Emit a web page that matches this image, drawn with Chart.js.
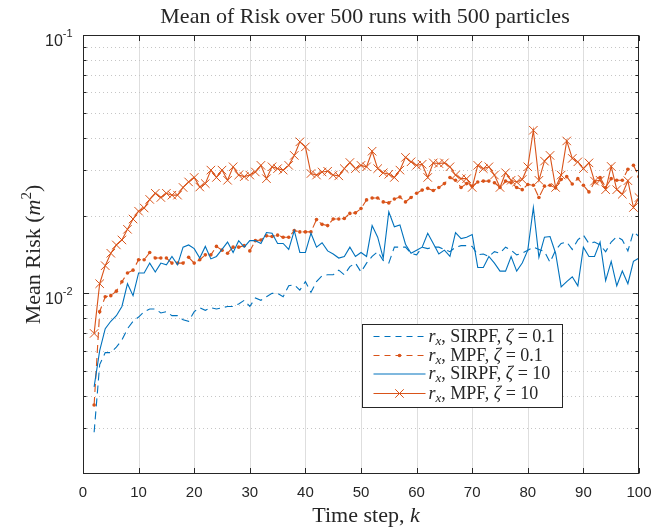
<!DOCTYPE html>
<html>
<head>
<meta charset="utf-8">
<script src="https://cdn.jsdelivr.net/npm/chart.js@4.4.1/dist/chart.umd.min.js"></script>
<style>
body { margin: 0; background: #fff; }
#wrap { width: 665px; height: 527px; }
</style>
</head>
<body>
<div id="wrap"><canvas id="risk" width="665" height="527"></canvas></div>
<script>
// time steps k
const steps = [
    2, 3, 4, 5, 6, 7, 8, 9, 10, 11,
    12, 13, 14, 15, 16, 17, 18, 19, 20, 21,
    22, 23, 24, 25, 26, 27, 28, 29, 30, 31,
    32, 33, 34, 35, 36, 37, 38, 39, 40, 41,
    42, 43, 44, 45, 46, 47, 48, 49, 50, 51,
    52, 53, 54, 55, 56, 57, 58, 59, 60, 61,
    62, 63, 64, 65, 66, 67, 68, 69, 70, 71,
    72, 73, 74, 75, 76, 77, 78, 79, 80, 81,
    82, 83, 84, 85, 86, 87, 88, 89, 90, 91,
    92, 93, 94, 95, 96, 97, 98, 99, 100
]

// r_x, SIRPF, zeta = 0.1
const sirpfLow = [
    0.0029, 0.0053, 0.0059, 0.0059, 0.0062, 0.0066, 0.0073, 0.0078, 0.0081, 0.0085,
    0.0087, 0.0087, 0.0084, 0.0085, 0.0082, 0.0082, 0.0079, 0.0078, 0.0085, 0.0088,
    0.0086, 0.0088, 0.0087, 0.0088, 0.0089, 0.0089, 0.0091, 0.0094, 0.0089, 0.0096,
    0.0094, 0.0097, 0.0100, 0.0100, 0.0097, 0.0107, 0.0108, 0.0103, 0.0111, 0.0101,
    0.0111, 0.0117, 0.0118, 0.0118, 0.0123, 0.0118, 0.0127, 0.0131, 0.0121, 0.0131,
    0.0139, 0.0145, 0.0134, 0.0131, 0.0151, 0.0151, 0.0151, 0.0143, 0.0141, 0.0151,
    0.0149, 0.0151, 0.0151, 0.0148, 0.0145, 0.0151, 0.0153, 0.0153, 0.0152, 0.0141,
    0.0142, 0.0139, 0.0145, 0.0143, 0.0151, 0.0147, 0.0141, 0.0143, 0.0147, 0.0151,
    0.0148, 0.0145, 0.0132, 0.0147, 0.0156, 0.0158, 0.0148, 0.0161, 0.0168, 0.0156,
    0.0158, 0.0154, 0.0145, 0.0158, 0.0166, 0.0161, 0.0146, 0.0173, 0.0166
]

// r_x, MPF, zeta = 0.1
const mpfLow = [
    0.0037, 0.0085, 0.0097, 0.0098, 0.0102, 0.0111, 0.0120, 0.0123, 0.0135, 0.0135,
    0.0144, 0.0137, 0.0137, 0.0137, 0.0131, 0.0131, 0.0131, 0.0138, 0.0131, 0.0135,
    0.0141, 0.0141, 0.0152, 0.0147, 0.0143, 0.0151, 0.0151, 0.0153, 0.0146, 0.0160,
    0.0161, 0.0167, 0.0166, 0.0168, 0.0165, 0.0165, 0.0175, 0.0173, 0.0173, 0.0173,
    0.0193, 0.0185, 0.0183, 0.0194, 0.0194, 0.0195, 0.0204, 0.0205, 0.0213, 0.0230,
    0.0234, 0.0234, 0.0226, 0.0224, 0.0232, 0.0236, 0.0226, 0.0235, 0.0244, 0.0251,
    0.0255, 0.0250, 0.0257, 0.0266, 0.0281, 0.0274, 0.0257, 0.0266, 0.0260, 0.0270,
    0.0272, 0.0272, 0.0268, 0.0257, 0.0272, 0.0268, 0.0257, 0.0252, 0.0264, 0.0262,
    0.0235, 0.0260, 0.0262, 0.0256, 0.0276, 0.0283, 0.0265, 0.0278, 0.0262, 0.0247,
    0.0270, 0.0281, 0.0257, 0.0278, 0.0274, 0.0274, 0.0302, 0.0313, 0.0283
]

// r_x, SIRPF, zeta = 10
const sirpfHigh = [
    0.00435, 0.0060, 0.0073, 0.0078, 0.0082, 0.0089, 0.0109, 0.0098, 0.0120, 0.0120,
    0.0131, 0.0121, 0.0131, 0.0129, 0.0139, 0.0129, 0.0151, 0.0154, 0.0149, 0.0137,
    0.0152, 0.0136, 0.0139, 0.0148, 0.0158, 0.0144, 0.0160, 0.0151, 0.0160, 0.0160,
    0.0156, 0.0172, 0.0171, 0.0156, 0.0156, 0.0148, 0.0175, 0.0144, 0.0144, 0.0171,
    0.0151, 0.0157, 0.0146, 0.0142, 0.0137, 0.0139, 0.0151, 0.0139, 0.0144, 0.0139,
    0.0183, 0.0165, 0.0137, 0.0207, 0.0181, 0.0184, 0.0155, 0.0143, 0.0147, 0.0151,
    0.0171, 0.0156, 0.0142, 0.0147, 0.0139, 0.0172, 0.0163, 0.0165, 0.0169, 0.0126,
    0.0126, 0.0139, 0.0131, 0.0122, 0.0122, 0.0139, 0.0122, 0.0131, 0.0147, 0.0215,
    0.0138, 0.0165, 0.0166, 0.0143, 0.0106, 0.0111, 0.0116, 0.0107, 0.0151, 0.0139,
    0.0139, 0.0158, 0.0112, 0.0133, 0.0107, 0.0122, 0.0109, 0.0133, 0.0137
]

// r_x, MPF, zeta = 10
const mpfHigh = [
    0.0070, 0.0109, 0.0128, 0.0143, 0.0154, 0.0161, 0.0177, 0.0194, 0.0208, 0.0214,
    0.0231, 0.0244, 0.0235, 0.0244, 0.0240, 0.0240, 0.0257, 0.0270, 0.0281, 0.0258,
    0.0266, 0.0300, 0.0281, 0.0300, 0.0274, 0.0309, 0.0287, 0.0283, 0.0287, 0.0295,
    0.0313, 0.0278, 0.0309, 0.0304, 0.0300, 0.0313, 0.0342, 0.0386, 0.0369, 0.0291,
    0.0287, 0.0295, 0.0297, 0.0287, 0.0285, 0.0304, 0.0321, 0.0304, 0.0313, 0.0309,
    0.0355, 0.0304, 0.0293, 0.0289, 0.0281, 0.0300, 0.0336, 0.0323, 0.0313, 0.0316,
    0.0281, 0.0320, 0.0318, 0.0320, 0.0309, 0.0287, 0.0278, 0.0278, 0.0257, 0.0313,
    0.0304, 0.0309, 0.0287, 0.0257, 0.0293, 0.0274, 0.0270, 0.0276, 0.0309, 0.0428,
    0.0274, 0.0325, 0.0342, 0.0257, 0.0287, 0.0389, 0.0333, 0.0323, 0.0304, 0.0320,
    0.0272, 0.0274, 0.0252, 0.0310, 0.0252, 0.0242, 0.0273, 0.0215, 0.0235
]

const xTicks = [0, 10, 20, 30, 40, 50, 60, 70, 80, 90, 100]
const yMajor = [0.01, 0.1]
const yMinor = [0.003, 0.004, 0.005, 0.006, 0.007, 0.008, 0.009,
                0.02, 0.03, 0.04, 0.05, 0.06, 0.07, 0.08, 0.09]
const methods = ['SIRPF', 'MPF', 'SIRPF', 'MPF']
const zetas = ['0.1', '0.1', '10', '10']

const chartTitle = 'Mean of Risk over 500 runs with 500 particles'

const blue = '#0072BD'
const orange = '#D95319'
const ink = '#262626'
const serif = '"Liberation Serif", "Times New Roman", serif'
const sans = '"Liberation Sans", Arial, sans-serif'

function toPoints(vals) {
    return vals.map((v, i) => ({ x: steps[i], y: v }))
}

function hline(ctx, x1, x2, y) {
    ctx.beginPath()
    ctx.moveTo(x1, y)
    ctx.lineTo(x2, y)
    ctx.stroke()
}

function vline(ctx, x, y1, y2) {
    ctx.beginPath()
    ctx.moveTo(x, y1)
    ctx.lineTo(x, y2)
    ctx.stroke()
}

// draws a row of text pieces with their own fonts, returns width
function richText(ctx, parts, x, y, measureOnly) {
    let w = 0
    parts.forEach(p => {
        ctx.font = p.font
        if (!measureOnly) ctx.fillText(p.t, x + w, y + (p.dy || 0))
        w += ctx.measureText(p.t).width
    })
    return w
}

function richCentered(ctx, parts, cx, y) {
    const w = richText(ctx, parts, 0, 0, true)
    richText(ctx, parts, cx - w / 2, y)
}

const styles = [
    { color: blue, dash: [8, 5], legendDash: [6, 5], radius: 0, point: 'circle' },
    { color: orange, dash: [8, 5], legendDash: [6, 5], radius: 1.8, point: 'circle' },
    { color: blue, dash: [], legendDash: [], radius: 0, point: 'circle' },
    { color: orange, dash: [], legendDash: [], radius: 6, point: 'crossRot' }
]

function legendSample(ctx, s, x1, x2, y) {
    ctx.save()
    ctx.strokeStyle = s.color
    ctx.lineWidth = 1.1
    ctx.setLineDash(s.legendDash)
    hline(ctx, x1, x2, y)
    ctx.setLineDash([])
    const mx = (x1 + x2) / 2
    if (s.point == 'crossRot' && s.radius) {
        const r = s.radius * Math.SQRT1_2
        ctx.lineWidth = 1
        ctx.beginPath()
        ctx.moveTo(mx - r, y - r); ctx.lineTo(mx + r, y + r)
        ctx.moveTo(mx - r, y + r); ctx.lineTo(mx + r, y - r)
        ctx.stroke()
    } else if (s.radius) {
        ctx.fillStyle = s.color
        ctx.beginPath()
        ctx.arc(mx, y, s.radius, 0, Math.PI * 2)
        ctx.fill()
    }
    ctx.restore()
}

const matlabAxes = {
    id: 'matlabAxes',
    beforeDatasetsDraw(chart) {
        const { ctx, chartArea: a, scales: { x, y } } = chart
        ctx.save()
        ctx.lineWidth = 1
        ctx.strokeStyle = '#dedede'
        xTicks.forEach(t => {
            if (t <= x.min || t >= x.max) return
            vline(ctx, Math.round(x.getPixelForValue(t)) + 0.5, a.top, a.bottom)
        })
        yMajor.forEach(v => {
            if (v <= y.min || v >= y.max) return
            hline(ctx, a.left, a.right, Math.round(y.getPixelForValue(v)) + 0.5)
        })
        ctx.setLineDash([1, 3])
        ctx.strokeStyle = '#c6c6c6'
        yMinor.forEach(v => {
            hline(ctx, a.left, a.right, Math.round(y.getPixelForValue(v)) + 0.5)
        })
        ctx.restore()
    },
    afterDraw(chart) {
        const { ctx, chartArea: a, scales: { x, y } } = chart
        const L = Math.round(a.left) + 0.5, R = Math.round(a.right) - 0.5
        const T = Math.round(a.top) + 0.5, B = Math.round(a.bottom) - 0.5
        ctx.save()
        ctx.strokeStyle = ink
        ctx.fillStyle = ink
        ctx.lineWidth = 1
        ctx.strokeRect(L, T, R - L, B - T)

        // inward ticks
        xTicks.forEach(t => {
            const px = Math.round(x.getPixelForValue(t)) + 0.5
            vline(ctx, px, B, B - 5.5)
            vline(ctx, px, T, T + 5.5)
        })
        yMajor.concat(yMinor).forEach(v => {
            const py = Math.round(y.getPixelForValue(v)) + 0.5
            const len = yMajor.includes(v) ? 5.5 : 3
            hline(ctx, L, L + len, py)
            hline(ctx, R, R - len, py)
        })

        // tick labels
        ctx.font = '15px ' + sans
        ctx.textAlign = 'center'
        ctx.textBaseline = 'alphabetic'
        xTicks.forEach(t => {
            ctx.fillText(String(t), x.getPixelForValue(t), a.bottom + 23)
        })
        ctx.textAlign = 'left'
        yMajor.forEach(v => {
            const py = y.getPixelForValue(v)
            const exp = String(Math.round(Math.log10(v)))
            richText(ctx, [
                { t: '10', font: '16px ' + sans },
                { t: exp, font: '11px ' + sans, dy: -9 }
            ], a.left - 38, py + 11)
        })

        // title and axis labels
        const cx = (a.left + a.right) / 2
        richCentered(ctx, [{ t: chartTitle, font: '22px ' + serif }], cx + 4, 23)
        richCentered(ctx, [
            { t: 'Time step, ', font: '22px ' + serif },
            { t: 'k', font: 'italic 22px ' + serif }
        ], cx + 5, 522)
        ctx.save()
        ctx.translate(40, (a.top + a.bottom) / 2)
        ctx.rotate(-Math.PI / 2)
        richCentered(ctx, [
            { t: 'Mean Risk (', font: '22px ' + serif },
            { t: 'm', font: 'italic 22px ' + serif },
            { t: '2', font: '15px ' + serif, dy: -9 },
            { t: ')', font: '22px ' + serif }
        ], 0, 0)
        ctx.restore()

        // legend box
        const lx = Math.round(a.right) - 277 + 0.5
        const ly = Math.round(a.bottom) - 150 + 0.5
        ctx.fillStyle = '#fff'
        ctx.fillRect(lx, ly, 200, 83)
        ctx.strokeStyle = ink
        ctx.strokeRect(lx, ly, 200, 83)
        ctx.fillStyle = ink
        const rows = [12, 31, 49.5, 69]
        rows.forEach((dy, i) => {
            const ry = ly + dy
            legendSample(ctx, styles[i], lx + 11, lx + 63, ry)
            richText(ctx, [
                { t: 'r', font: 'italic 18px ' + serif },
                { t: 'x', font: 'italic 13px ' + serif, dy: 3 },
                { t: ', ' + methods[i] + ', ', font: '18px ' + serif },
                { t: 'ζ', font: 'italic 18px ' + serif },
                { t: ' = ' + zetas[i], font: '18px ' + serif }
            ], lx + 66, ry + 5)
        })
        ctx.restore()
    }
}

const series = [sirpfLow, mpfLow, sirpfHigh, mpfHigh]
const datasets = series.map((vals, i) => {
    const s = styles[i]
    return {
        data: toPoints(vals),
        borderColor: s.color,
        backgroundColor: s.color,
        borderWidth: 1.1,
        borderDash: s.dash,
        pointStyle: s.point,
        pointRadius: s.radius,
        pointBorderWidth: s.point == 'crossRot' ? 1 : 0,
        pointBorderColor: s.color,
        pointBackgroundColor: s.color,
        pointHoverRadius: s.radius,
        tension: 0,
        fill: false,
        order: 4 - i
    }
})

const riskChart = new Chart(document.getElementById('risk'), {
    type: 'line',
    data: { datasets: datasets },
    plugins: [matlabAxes],
    options: {
        responsive: false,
        animation: false,
        layout: { padding: { left: 83, top: 35, right: 26, bottom: 53 } },
        scales: {
            x: { type: 'linear', min: 0, max: 100, display: false },
            y: { type: 'logarithmic', min: 0.002, max: 0.1, display: false }
        },
        plugins: {
            legend: { display: false },
            title: { display: false },
            tooltip: { enabled: false }
        }
    }
})
</script>
</body>
</html>
